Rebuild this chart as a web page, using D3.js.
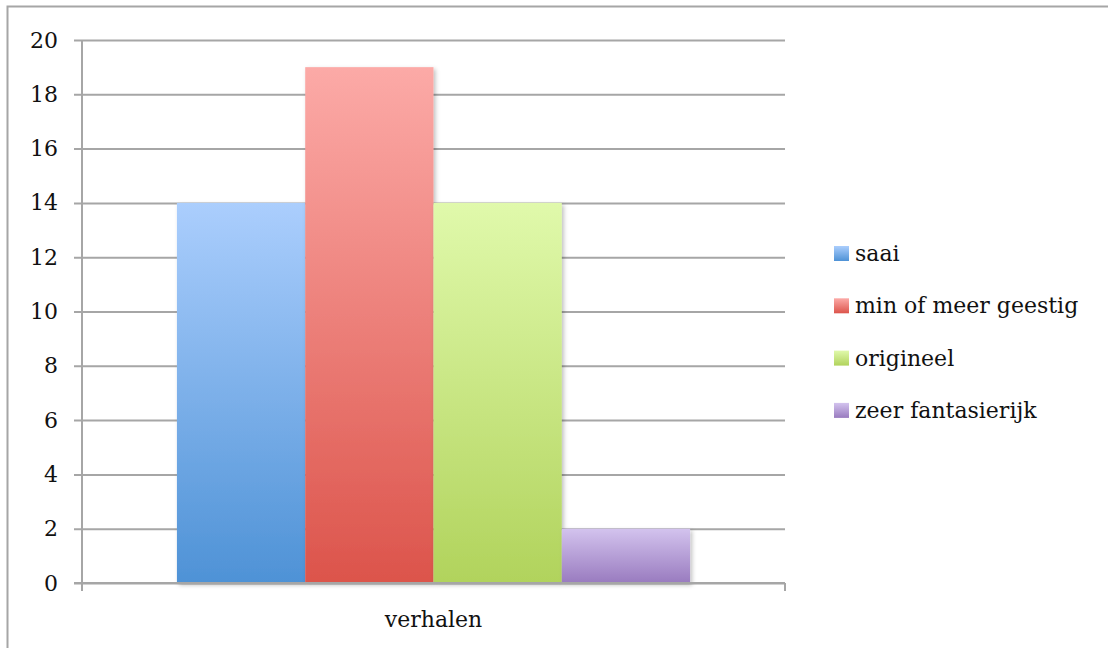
<!DOCTYPE html>
<html>
<head>
<meta charset="utf-8">
<script src="https://cdn.jsdelivr.net/npm/d3@7"></script>
<style>
  html, body { margin: 0; padding: 0; background: #fff; }
  svg text { font-family: "DejaVu Serif", "Liberation Serif", serif; fill: #111; }
</style>
</head>
<body>
<svg id="chart" width="1108" height="648"></svg>
<script>
// Survey results: how the stories were rated
const categories = ["verhalen"];
const seriesNames = ["saai", "min of meer geestig", "origineel", "zeer fantasierijk"];
const seriesValues = [14, 19, 14, 2];
const yTicks = [0, 2, 4, 6, 8, 10, 12, 14, 16, 18, 20];
// top / bottom gradient stops for each series
const colorsTop = ["#abcefd", "#fcaaa7", "#e0f9ab", "#d3c3ee"];
const colorsBottom = ["#4e92d6", "#dc544b", "#b1d35c", "#997bbf"];

const FONT = '"DejaVu Serif", "Liberation Serif", serif';
const FS = 22;

const svg = d3.select("#chart");
const W = 1108, H = 648;

// outer frame
svg.append("rect")
  .attr("x", 7.5).attr("y", 6.5)
  .attr("width", W + 10).attr("height", H + 10)
  .attr("fill", "none").attr("stroke", "#a6a6a6").attr("stroke-width", 2);

const plot = { left: 82, right: 785, top: 40, bottom: 583 };

const y = d3.scaleLinear().domain([0, 20]).range([plot.bottom, plot.top]);
const x0 = d3.scaleBand().domain(categories).range([plot.left, plot.right]).paddingInner(0).paddingOuter(0.185);
const x1 = d3.scaleBand().domain(seriesNames).range([0, x0.bandwidth()]).padding(0);

const defs = svg.append("defs");
seriesNames.forEach((s, i) => {
  const g = defs.append("linearGradient").attr("id", "grad" + i)
    .attr("x1", 0).attr("y1", 0).attr("x2", 0).attr("y2", 1);
  g.append("stop").attr("offset", "0%").attr("stop-color", colorsTop[i]);
  g.append("stop").attr("offset", "100%").attr("stop-color", colorsBottom[i]);
});
const shadow = defs.append("filter").attr("id", "shadow")
  .attr("x", "-10%").attr("y", "-10%").attr("width", "130%").attr("height", "130%");
shadow.append("feDropShadow").attr("dx", 2).attr("dy", 2).attr("stdDeviation", 2)
  .attr("flood-color", "#000").attr("flood-opacity", 0.25);

// horizontal gridlines with left tick marks
const yAxis = d3.axisLeft(y).tickValues(yTicks).tickSize(-(plot.right - plot.left)).tickSizeOuter(0).tickPadding(24);
const gy = svg.append("g").attr("transform", `translate(${plot.left},0)`).call(yAxis)
  .attr("font-family", FONT).attr("font-size", FS);
gy.select(".domain").remove();
gy.selectAll(".tick line").attr("stroke", "#a6a6a6").attr("stroke-width", 2).attr("x1", -8);
gy.selectAll(".tick text").attr("fill", "#111");

// bars
svg.append("g").selectAll("g").data(categories).join("g")
  .attr("transform", d => `translate(${x0(d)},0)`)
  .selectAll("rect").data(seriesNames.map((s, i) => ({ s, i, v: seriesValues[i] }))).join("rect")
  .attr("x", d => x1(d.s))
  .attr("y", d => y(d.v))
  .attr("width", x1.bandwidth())
  .attr("height", d => y(0) - y(d.v))
  .attr("fill", d => `url(#grad${d.i})`)
  .attr("filter", "url(#shadow)");

// axes lines drawn on top
svg.append("line").attr("x1", plot.left).attr("x2", plot.left).attr("y1", plot.top).attr("y2", plot.bottom + 8)
  .attr("stroke", "#a6a6a6").attr("stroke-width", 2);
svg.append("line").attr("x1", plot.left - 8).attr("x2", plot.right).attr("y1", plot.bottom).attr("y2", plot.bottom)
  .attr("stroke", "#a6a6a6").attr("stroke-width", 2);
svg.append("line").attr("x1", plot.right).attr("x2", plot.right).attr("y1", plot.bottom).attr("y2", plot.bottom + 8)
  .attr("stroke", "#a6a6a6").attr("stroke-width", 2);

// category label
svg.selectAll(".cat").data(categories).join("text")
  .attr("class", "cat")
  .attr("x", d => x0(d) + x0.bandwidth() / 2)
  .attr("y", 627)
  .attr("text-anchor", "middle")
  .attr("font-family", FONT)
  .attr("font-size", FS)
  .text(d => d);

// legend
const legend = svg.append("g").attr("transform", "translate(834,253)");
const items = legend.selectAll("g").data(seriesNames).join("g")
  .attr("transform", (d, i) => `translate(0,${i * 52.3})`);
items.append("rect").attr("x", 0).attr("y", -7).attr("width", 15).attr("height", 15)
  .attr("fill", (d, i) => `url(#grad${i})`);
items.append("text").attr("x", 21).attr("y", 8)
  .attr("font-family", FONT).attr("font-size", FS).text(d => d);
</script>
</body>
</html>
